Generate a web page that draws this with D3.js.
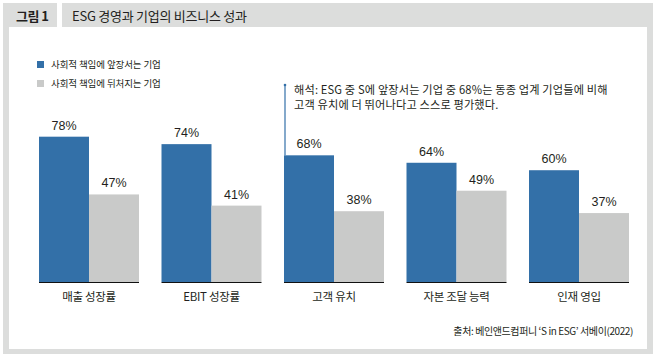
<!DOCTYPE html>
<html><head><meta charset="utf-8">
<script src="https://cdn.jsdelivr.net/npm/d3@7"></script>
<style>
html,body{margin:0;padding:0;background:#fff;}
text{font-family:"Noto Sans CJK KR","Noto Sans",sans-serif;fill:#231f20;}
</style></head>
<body><svg id="c" width="657" height="361"></svg>
<script>
const categories = ["매출 성장률","EBIT 성장률","고객 유치","자본 조달 능력","인재 영입"];
const leaders = [78,74,68,64,60];
const laggards = [47,41,38,49,37];
const seriesNames = ["사회적 책임에 앞장서는 기업","사회적 책임에 뒤처지는 기업"];
const figLabel = "그림 1";
const title = "ESG 경영과 기업의 비즈니스 성과";
const noteLines = ["해석: ESG 중 S에 앞장서는 기업 중 68%는 동종 업계 기업들에 비해","고객 유치에 더 뛰어나다고 스스로 평가했다."];
const noteCategory = "고객 유치";
const source = "출처: 베인앤드컴퍼니 ‘S in ESG’ 서베이(2022)";

const colors = ["#3370a8","#c9cac9"];
const frame = "#dcdddc";
const svg = d3.select("#c");

// frame
svg.append("rect").attr("x",3).attr("y",3).attr("width",650).attr("height",351).attr("fill",frame);
svg.append("rect").attr("x",9).attr("y",27).attr("width",638).attr("height",322).attr("fill","#fff");
svg.append("rect").attr("x",57).attr("y",3).attr("width",5).attr("height",24).attr("fill","#fff");
svg.append("text").attr("x",16).attr("y",20.5).attr("font-size",13).attr("font-weight",700)
  .attr("letter-spacing",-0.5).text(figLabel);
svg.append("text").attr("x",72).attr("y",20.5).attr("font-size",13)
  .attr("letter-spacing",-0.25).text(title);

const data = categories.map((c,i)=>({cat:c, vals:[leaders[i],laggards[i]]}));
const x0 = d3.scaleBand().domain(categories).range([39,629]).paddingInner(22.5/122.5).paddingOuter(0);
const x1 = d3.scaleBand().domain([0,1]).range([0,x0.bandwidth()]);
const y = d3.scaleLinear().domain([0,100]).range([282,95.7]);

const g = svg.selectAll("g.grp").data(data).join("g").attr("class","grp")
  .attr("transform",d=>`translate(${x0(d.cat)},0)`);
g.selectAll("rect").data(d=>d.vals).join("rect")
  .attr("x",(v,i)=>x1(i)).attr("width",x1.bandwidth())
  .attr("y",v=>y(v)).attr("height",v=>y(0)-y(v))
  .attr("fill",(v,i)=>colors[i]);
g.selectAll("text.val").data(d=>d.vals).join("text").attr("class","val")
  .attr("x",(v,i)=>x1(i)+x1.bandwidth()/2).attr("y",v=>y(v)-7)
  .attr("text-anchor","middle").attr("font-size",12.5)
  .style("font-family","'Liberation Sans',Arial,sans-serif")
  .text(v=>v+"%");
g.append("line").attr("x1",0).attr("x2",x0.bandwidth()).attr("y1",y(0)+0.5).attr("y2",y(0)+0.5)
  .attr("stroke","#111").attr("stroke-width",1.2);

// category axis labels
const xAxis = d3.axisBottom(x0).tickSize(0).tickPadding(0);
const ax = svg.append("g").attr("transform",`translate(0,${y(0)})`).call(xAxis);
ax.select(".domain").remove();
ax.selectAll("text").attr("font-size",11.5).attr("dy",0).attr("y",19)
  .attr("letter-spacing",-0.3).style("font-family","'Noto Sans CJK KR',sans-serif").attr("fill","#231f20");

// legend
const lg = svg.selectAll("g.lg").data(seriesNames).join("g").attr("class","lg")
  .attr("transform",(d,i)=>`translate(37,${61+i*19})`);
lg.append("rect").attr("width",7).attr("height",7).attr("fill",(d,i)=>colors[i]);
lg.append("text").attr("x",14).attr("y",7.3).attr("font-size",9.5).attr("letter-spacing",-0.1).text(d=>d);

// annotation
const ni = categories.indexOf(noteCategory);
const lx = x0(noteCategory)+1;
svg.append("line").attr("x1",lx).attr("x2",lx).attr("y1",85).attr("y2",y(leaders[ni]))
  .attr("stroke",colors[0]).attr("stroke-width",1.2);
svg.append("circle").attr("cx",lx).attr("cy",85).attr("r",1.3).attr("fill",colors[0]);
svg.selectAll("text.note").data(noteLines).join("text").attr("class","note")
  .attr("x",lx+9).attr("y",(d,i)=>94+i*14.5).attr("font-size",11.2).attr("letter-spacing",0.15).text(d=>d);

// source
svg.append("text").attr("x",633).attr("y",335).attr("text-anchor","end")
  .attr("font-size",10).attr("letter-spacing",-0.4).text(source);
</script></body></html>
